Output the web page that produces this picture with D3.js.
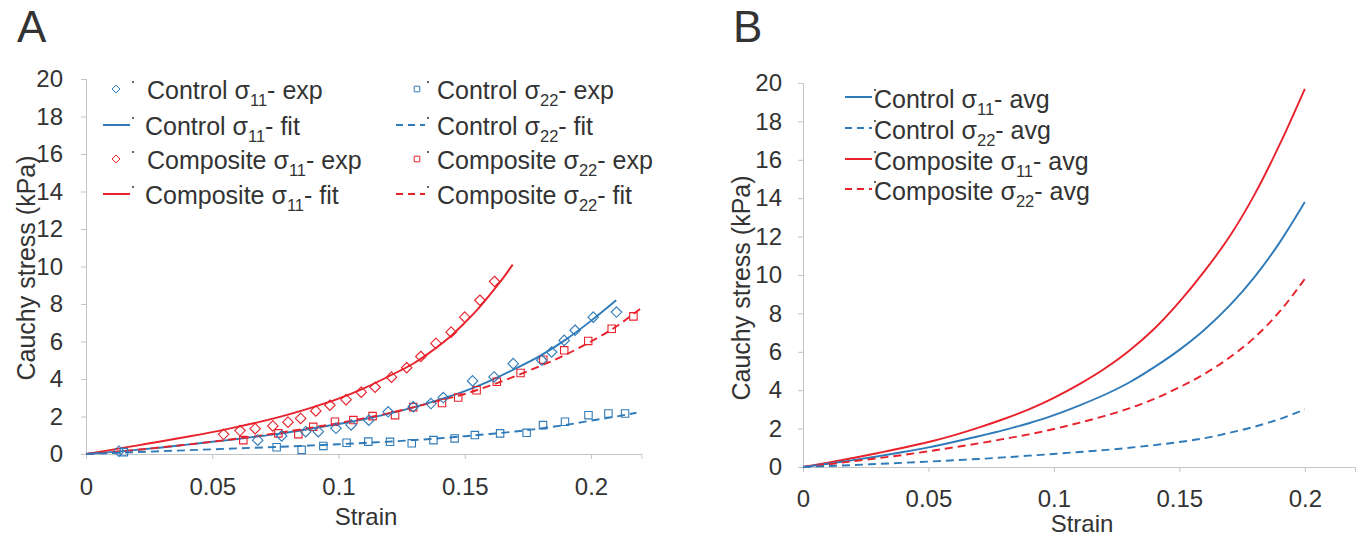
<!DOCTYPE html>
<html>
<head>
<meta charset="UTF-8">
<title>Cauchy stress vs strain</title>
<script src="https://d3js.org/d3.v7.min.js"></script>
<style>
  body { margin: 0; background: #fff; }
  text { font-family: "Liberation Sans", Arial, sans-serif; fill: #333; }
</style>
</head>
<body>
<div id="chart"></div>
<script>
// ---- data ----

// panel A: experimental points [strain, stress kPa]
var ctrl11Exp = [[0.013,0.15],[0.068,0.74],[0.0775,0.96],[0.087,1.19],[0.092,1.19],[0.099,1.37],[0.105,1.55],[0.112,1.8],
  [0.1197,2.25],[0.1296,2.52],[0.1366,2.69],[0.1415,3.01],[0.1531,3.9],[0.1616,4.11],[0.1692,4.82],[0.1805,5.0],
  [0.1844,5.44],[0.1894,6.06],[0.1937,6.6],[0.2009,7.3],[0.2101,7.57]];
var ctrl22Exp = [[0.015,0.1],[0.0755,0.36],[0.0854,0.22],[0.094,0.43],[0.1032,0.6],[0.1118,0.66],[0.1204,0.65],[0.129,0.57],
  [0.1376,0.74],[0.146,0.83],[0.154,1.01],[0.164,1.1],[0.1745,1.13],[0.181,1.54],[0.1897,1.72],[0.199,2.07],
  [0.2069,2.16],[0.2135,2.16]];
var comp11Exp = [[0.0545,1.05],[0.061,1.25],[0.067,1.35],[0.074,1.5],[0.08,1.7],[0.085,1.9],[0.091,2.3],[0.0966,2.6],
  [0.103,2.9],[0.109,3.3],[0.1145,3.56],[0.121,4.1],[0.127,4.6],[0.1326,5.2],[0.1386,5.9],[0.1446,6.5],
  [0.150,7.3],[0.156,8.2],[0.1618,9.2]];
var comp22Exp = [[0.0623,0.74],[0.0762,1.1],[0.0841,1.06],[0.09,1.45],[0.0986,1.72],[0.1059,1.81],[0.1135,2.02],
  [0.1224,2.07],[0.1296,2.5],[0.141,2.72],[0.1474,3.01],[0.1547,3.4],[0.1627,3.85],[0.1721,4.32],[0.1811,5.03],
  [0.1894,5.53],[0.1989,6.03],[0.2082,6.68],[0.2168,7.34]];

// panel A: fitted curves
var fitStrain = [0,0.01,0.02,0.03,0.04,0.05,0.06,0.07,0.08,0.09,0.1,0.11,0.12,0.13,0.14,0.15,0.16,0.17,0.18,0.19,0.2,0.21];
var ctrl11Fit = [0,0.1,0.22,0.35,0.5,0.65,0.8,0.97,1.15,1.37,1.6,1.85,2.15,2.5,2.9,3.35,3.9,4.55,5.25,6.1,7.1,8.2];
var ctrl22FitStrain = [0,0.01,0.02,0.03,0.04,0.05,0.06,0.07,0.08,0.09,0.1,0.11,0.12,0.13,0.14,0.15,0.16,0.17,0.18,0.19,0.2,0.21,0.218];
var ctrl22Fit = [0,0.05,0.1,0.15,0.2,0.25,0.3,0.35,0.4,0.46,0.52,0.59,0.66,0.74,0.84,0.95,1.07,1.2,1.36,1.55,1.78,2.0,2.2];
var comp11FitStrain = [0,0.01,0.02,0.03,0.04,0.05,0.06,0.07,0.08,0.09,0.1,0.11,0.12,0.13,0.135,0.14,0.145,0.15,0.155,0.16,0.165,0.169];
var comp11Fit = [0,0.22,0.45,0.68,0.92,1.17,1.45,1.75,2.1,2.5,2.95,3.5,4.15,4.85,5.3,5.8,6.35,7.0,7.7,8.5,9.35,10.1];
var comp22FitStrain = [0,0.01,0.02,0.03,0.04,0.05,0.06,0.07,0.08,0.09,0.1,0.11,0.12,0.13,0.14,0.15,0.16,0.17,0.18,0.19,0.2,0.21,0.22];
var comp22Fit = [0,0.1,0.22,0.36,0.5,0.66,0.82,1.0,1.2,1.42,1.65,1.9,2.18,2.5,2.85,3.2,3.65,4.15,4.7,5.3,6.0,6.8,7.8];

// panel B: averaged curves
var avgStrain = [0,0.01,0.02,0.03,0.04,0.05,0.06,0.07,0.08,0.09,0.1,0.11,0.12,0.13,0.14,0.15,0.16,0.17,0.18,0.19,0.2];
var ctrl11Avg = [0,0.17,0.36,0.56,0.78,1.02,1.3,1.6,1.92,2.28,2.7,3.2,3.75,4.4,5.2,6.1,7.15,8.4,9.9,11.7,13.8];
var ctrl22Avg = [0,0.05,0.1,0.16,0.22,0.28,0.35,0.42,0.5,0.59,0.68,0.78,0.88,1.0,1.14,1.3,1.5,1.78,2.1,2.5,3.0];
var comp11Avg = [0,0.22,0.47,0.73,1.0,1.3,1.65,2.05,2.5,3.0,3.6,4.3,5.1,6.05,7.2,8.6,10.2,12.0,14.2,16.8,19.7];
var comp22Avg = [0,0.14,0.3,0.46,0.63,0.82,1.02,1.23,1.46,1.7,1.98,2.3,2.65,3.05,3.55,4.15,4.85,5.7,6.75,8.1,9.8];

var xTicks = [0, 0.05, 0.1, 0.15, 0.2];
var yTicks = [0,2,4,6,8,10,12,14,16,18,20];
var legendA = [
  {pre: "Control σ", sub: "11", post: "- exp", col: 0, kind: "diamond", color: "blue"},
  {pre: "Control σ", sub: "11", post: "- fit", col: 0, kind: "solid", color: "blue"},
  {pre: "Composite σ", sub: "11", post: "- exp", col: 0, kind: "diamond", color: "red"},
  {pre: "Composite σ", sub: "11", post: "- fit", col: 0, kind: "solid", color: "red"},
  {pre: "Control σ", sub: "22", post: "- exp", col: 1, kind: "square", color: "blue"},
  {pre: "Control σ", sub: "22", post: "- fit", col: 1, kind: "dash", color: "blue"},
  {pre: "Composite σ", sub: "22", post: "- exp", col: 1, kind: "square", color: "red"},
  {pre: "Composite σ", sub: "22", post: "- fit", col: 1, kind: "dash", color: "red"}
];
var legendB = [
  {pre: "Control σ", sub: "11", post: "- avg", kind: "solid", color: "blue"},
  {pre: "Control σ", sub: "22", post: "- avg", kind: "dash", color: "blue"},
  {pre: "Composite σ", sub: "11", post: "- avg", kind: "solid", color: "red"},
  {pre: "Composite σ", sub: "22", post: "- avg", kind: "dash", color: "red"}
];

var colors = {blue: "#2f7ab9", red: "#e8212b"};
var dash = "8,5";

var svg = d3.select("#chart").append("svg")
  .attr("width", 1369).attr("height", 537);

function zip(xs, ys) { return xs.map(function(x, i) { return [x, ys[i]]; }); }

function label(g, x, y, d, size) {
  var t = g.append("text").attr("x", x).attr("y", y).style("font-size", size + "px");
  t.append("tspan").text(d.pre);
  t.append("tspan").attr("dy", 7).style("font-size", (size * 0.66) + "px").text(d.sub);
  t.append("tspan").attr("dy", -7).text(d.post);
}

function panel(opt) {
  var x = d3.scaleLinear().domain([0, 0.22]).range([opt.x0, opt.x1]);
  var y = d3.scaleLinear().domain([0, 20]).range([opt.y0, opt.y1]);
  var g = svg.append("g");

  var xa = g.append("g").attr("transform", "translate(0," + opt.y0 + ")")
    .call(d3.axisBottom(x).tickValues(xTicks).tickSize(5).tickPadding(opt.xpad)
      .tickFormat(function(d) { return d === 0 ? "0" : String(d); }));
  var ya = g.append("g").attr("transform", "translate(" + opt.x0 + ",0)")
    .call(d3.axisLeft(y).tickValues(yTicks).tickSize(5).tickPadding(opt.ypad));
  [xa, ya].forEach(function(a) {
    a.select(".domain").attr("stroke", "#c4c4c4");
    a.selectAll(".tick line").attr("stroke", "#c4c4c4");
    a.selectAll(".tick text").style("font-size", "24px").style("font-family", "Liberation Sans, Arial, sans-serif").attr("fill", "#333");
  });

  g.append("text").attr("x", opt.lx).attr("y", 42).style("font-size", "44px").attr("fill", "#222").text(opt.letter);
  g.append("text").attr("transform", "translate(" + opt.ytx + "," + opt.yty + ") rotate(-90)")
    .attr("text-anchor", "middle").style("font-size", "25px").text("Cauchy stress (kPa)");
  g.append("text").attr("x", opt.xtx).attr("y", opt.xty)
    .attr("text-anchor", "middle").style("font-size", "24px").text("Strain");

  var line = d3.line().x(function(d) { return x(d[0]); }).y(function(d) { return y(d[1]); }).curve(d3.curveMonotoneX);
  opt.lines.forEach(function(s) {
    g.append("path").datum(s.data).attr("d", line).attr("fill", "none")
      .attr("stroke", colors[s.color]).attr("stroke-width", 1.9)
      .attr("stroke-dasharray", s.dash ? dash : null);
  });
  (opt.points || []).forEach(function(s) {
    var sym = d3.symbol().type(s.kind === "diamond" ? d3.symbolDiamond2 : d3.symbolSquare2).size(70);
    g.append("g").selectAll("path").data(s.data).enter().append("path")
      .attr("transform", function(d) { return "translate(" + x(d[0]) + "," + y(d[1]) + ")"; })
      .attr("d", sym).attr("fill", "none").attr("stroke", colors[s.color]).attr("stroke-width", 1.1);
  });
  return {x: x, y: y, g: g};
}

function legendSymbol(g, d, cx, cy, lx0, lx1) {
  var c = colors[d.color];
  if (d.kind === "diamond" || d.kind === "square") {
    var sym = d3.symbol().type(d.kind === "diamond" ? d3.symbolDiamond2 : d3.symbolSquare2).size(40);
    g.append("path").attr("transform", "translate(" + cx + "," + cy + ")").attr("d", sym)
      .attr("fill", "none").attr("stroke", c).attr("stroke-width", 1);
  } else {
    g.append("line").attr("x1", lx0).attr("x2", lx1).attr("y1", cy).attr("y2", cy)
      .attr("stroke", c).attr("stroke-width", 2).attr("stroke-dasharray", d.kind === "dash" ? "7,5" : null);
  }
  g.append("circle").attr("cx", lx1 + 3).attr("cy", cy - 7).attr("r", 1).attr("fill", "#333");
}

// ---- panel A ----
var A = panel({
  letter: "A", lx: 17, x0: 86, x1: 641.5, y0: 454, y1: 79, xpad: 19, ypad: 18,
  ytx: 35, yty: 268, xtx: 366, xty: 525,
  lines: [
    {data: zip(comp11FitStrain, comp11Fit), color: "red"},
    {data: zip(fitStrain, ctrl11Fit), color: "blue"},
    {data: zip(comp22FitStrain, comp22Fit), color: "red", dash: true},
    {data: zip(ctrl22FitStrain, ctrl22Fit), color: "blue", dash: true}
  ],
  points: [
    {data: comp11Exp, color: "red", kind: "diamond"},
    {data: comp22Exp, color: "red", kind: "square"},
    {data: ctrl11Exp, color: "blue", kind: "diamond"},
    {data: ctrl22Exp, color: "blue", kind: "square"}
  ]
});
var rowsA = [91, 127, 161, 196];
legendA.forEach(function(d, i) {
  var r = rowsA[i % 4];
  if (d.col === 0) {
    legendSymbol(A.g, d, 116, r - 2, 103, 130);
    label(A.g, d.kind === "diamond" ? 147 : 145, r + 8, d, 25);
  } else {
    legendSymbol(A.g, d, 417, r - 2, 396, 425);
    label(A.g, 437, r + 8, d, 25);
  }
});

// ---- panel B ----
var B = panel({
  letter: "B", lx: 733, x0: 803, x1: 1355, y0: 467, y1: 83, xpad: 18, ypad: 16,
  ytx: 750, yty: 288, xtx: 1082, xty: 532,
  lines: [
    {data: zip(avgStrain, comp11Avg), color: "red"},
    {data: zip(avgStrain, ctrl11Avg), color: "blue"},
    {data: zip(avgStrain, comp22Avg), color: "red", dash: true},
    {data: zip(avgStrain, ctrl22Avg), color: "blue", dash: true}
  ]
});
var rowsB = [100, 131, 162, 192];
legendB.forEach(function(d, i) {
  legendSymbol(B.g, d, 0, rowsB[i] - 3, 845, 872);
  label(B.g, 874, rowsB[i] + 8, d, 25);
});
</script>
</body>
</html>
